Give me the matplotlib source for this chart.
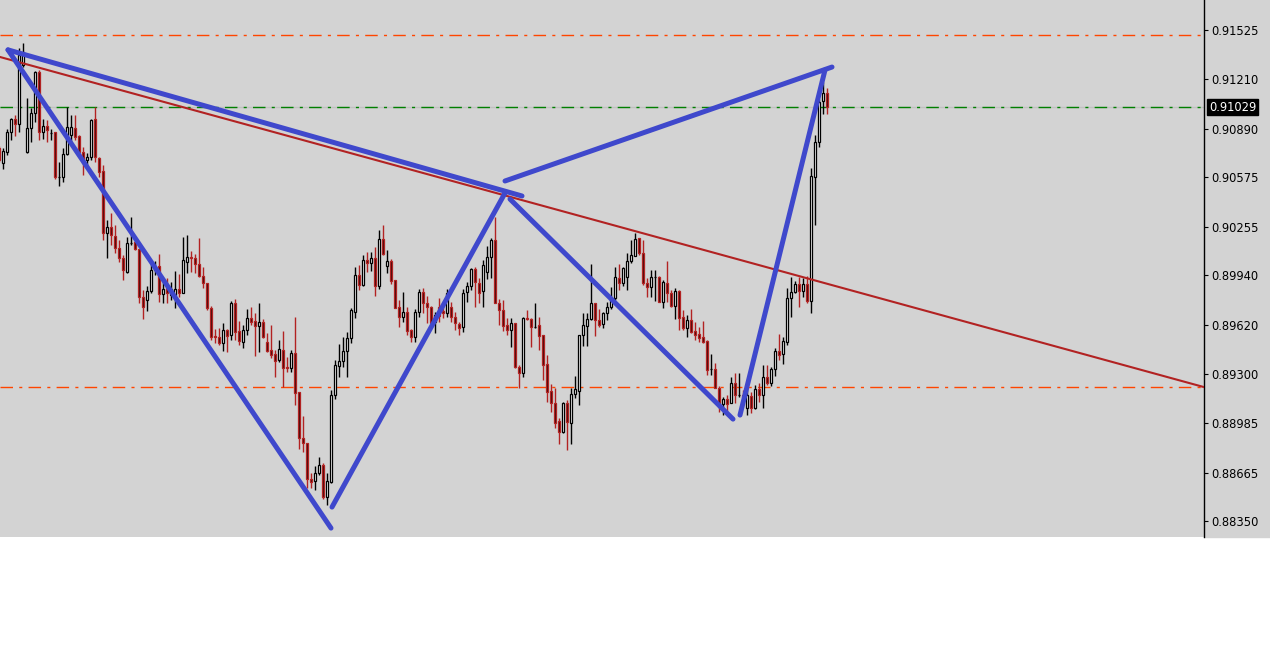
import numpy as np
import matplotlib
matplotlib.use("Agg")
import matplotlib.pyplot as plt
from matplotlib.patches import Rectangle
from matplotlib.transforms import blended_transform_factory

# OHLC prices in points (1e-5), one candle per bar
opens = [
    90764, 90667, 90739, 90868, 90952, 90920, 91301, 90739, 90894, 90991,
    91256, 90868, 90907, 90861, 90868, 90577, 90577, 90726, 90849, 90894,
    90842, 90739, 90687, 90706, 90952, 90700, 90616, 90214, 90253, 90195,
    90117, 90053, 89962, 90150, 90156, 90111, 89800, 89781, 89839, 89975,
    90001, 89820, 89859, 89813, 89813, 89852, 89826, 90027, 90059, 90053,
    90014, 89936, 89891, 89729, 89548, 89542, 89503, 89587, 89555, 89762,
    89580, 89509, 89587, 89664, 89645, 89613, 89639, 89509, 89458, 89432,
    89393, 89458, 89348, 89341, 89438, 89186, 88888, 88856, 88623, 88610,
    88662, 88713, 88506, 88603, 89166, 89354, 89386, 89451, 89535, 89703,
    89943, 89878, 90040, 90020, 90053, 89872, 90176, 90001, 90033, 89910,
    89736, 89671, 89703, 89587, 89542, 89703, 89833, 89762, 89736, 89639,
    89736, 89710, 89697, 89736, 89671, 89626, 89606, 89833, 89872, 89982,
    89891, 89839, 89962, 90059, 90169, 89762, 89716, 89619, 89587, 89632,
    89348, 89309, 89664, 89658, 89606, 89619, 89555, 89367, 89192, 89115,
    88998, 88927, 89115, 88985, 89173, 89192, 89555, 89613, 89658, 89762,
    89652, 89626, 89697, 89736, 89794, 89923, 89891, 89930, 90033, 90066,
    90182, 90085, 89891, 89865, 89930, 89930, 89768, 89891, 89826, 89742,
    89839, 89671, 89600, 89652, 89580, 89561, 89542, 89516, 89335, 89335,
    89212, 89108, 89141, 89115, 89244, 89166, 89166, 89082, 89160, 89082,
    89205, 89166, 89283, 89244, 89335, 89451, 89432, 89509, 89794, 89833,
    89885, 89839, 89885, 89775, 90577, 90803, 91069, 91120,
]
highs = [
    90777, 90764, 90887, 90959, 90978, 91411, 91444, 91088, 91023, 91262,
    91269, 90952, 90946, 90887, 90870, 90674, 90764, 91030, 90978, 90978,
    90849, 90771, 90732, 90952, 91030, 90706, 90654, 90299, 90344, 90266,
    90169, 90072, 90189, 90318, 90169, 90111, 89846, 89872, 90020, 90033,
    90079, 89917, 89923, 89897, 89969, 89949, 90189, 90202, 90098, 90079,
    90182, 89995, 89891, 89742, 89593, 89600, 89632, 89593, 89775, 89788,
    89645, 89619, 89723, 89736, 89697, 89762, 89658, 89567, 89619, 89458,
    89522, 89580, 89412, 89458, 89671, 89186, 89030, 88856, 88662, 88707,
    88765, 88726, 88662, 89199, 89393, 89496, 89542, 89574, 89729, 89995,
    90007, 90072, 90092, 90092, 90124, 90234, 90266, 90105, 90046, 89910,
    89781, 89833, 89736, 89593, 89723, 89852, 89859, 89807, 89742, 89703,
    89794, 89749, 89852, 89768, 89703, 89639, 89852, 89897, 89988, 89995,
    89923, 90040, 90130, 90182, 90318, 89788, 89781, 89664, 89664, 89632,
    89360, 89671, 89716, 89664, 89762, 89671, 89555, 89425, 89237, 89212,
    89018, 89121, 89134, 89212, 89289, 89555, 89697, 89697, 90014, 89762,
    89723, 89703, 89768, 89865, 89995, 90014, 89995, 90085, 90169, 90214,
    90182, 90169, 89923, 89975, 89975, 89936, 89910, 90033, 89846, 89859,
    89846, 89716, 89684, 89723, 89639, 89606, 89645, 89522, 89432, 89373,
    89225, 89153, 89166, 89283, 89309, 89309, 89199, 89212, 89186, 89231,
    89244, 89360, 89360, 89348, 89470, 89561, 89542, 89859, 89930, 89904,
    89930, 89923, 89936, 90635, 90849, 91081, 91191, 91153,
]
lows = [
    90674, 90629, 90719, 90816, 90842, 90868, 91288, 90732, 90803, 90933,
    90816, 90823, 90803, 90816, 90564, 90519, 90544, 90719, 90797, 90816,
    90706, 90590, 90635, 90687, 90674, 90577, 90169, 90053, 90137, 90085,
    90027, 89910, 89956, 90137, 90105, 89762, 89658, 89710, 89826, 89943,
    89768, 89762, 89762, 89781, 89729, 89800, 89826, 89956, 89962, 89956,
    89930, 89859, 89716, 89522, 89503, 89490, 89451, 89445, 89522, 89522,
    89490, 89470, 89555, 89619, 89419, 89445, 89535, 89445, 89406, 89283,
    89380, 89218, 89315, 89315, 89102, 88817, 88798, 88565, 88565, 88552,
    88649, 88494, 88455, 88597, 89141, 89283, 89348, 89283, 89503, 89664,
    89846, 89872, 89962, 89969, 89807, 89852, 90072, 89956, 89885, 89729,
    89606, 89639, 89555, 89509, 89509, 89671, 89697, 89632, 89619, 89567,
    89639, 89664, 89671, 89639, 89587, 89555, 89574, 89768, 89846, 89736,
    89762, 89736, 89917, 89923, 89762, 89619, 89580, 89555, 89477, 89341,
    89212, 89283, 89652, 89477, 89600, 89458, 89263, 89121, 89056, 88953,
    88849, 88920, 88811, 88849, 89147, 89102, 89483, 89483, 89652, 89548,
    89606, 89600, 89652, 89723, 89781, 89846, 89872, 89846, 90020, 90066,
    90072, 89878, 89800, 89800, 89775, 89768, 89729, 89768, 89736, 89658,
    89587, 89587, 89542, 89567, 89522, 89509, 89503, 89296, 89296, 89212,
    89056, 89037, 89056, 89115, 89115, 89153, 89102, 89037, 89050, 89076,
    89121, 89082, 89231, 89225, 89289, 89393, 89367, 89490, 89671, 89826,
    89736, 89800, 89762, 89697, 90266, 90771, 90984, 90984,
]
closes = [
    90687, 90745, 90868, 90952, 90920, 91366, 91386, 90894, 90991, 91256,
    90868, 90907, 90881, 90861, 90577, 90577, 90726, 90900, 90900, 90836,
    90739, 90667, 90706, 90946, 90706, 90609, 90214, 90253, 90202, 90117,
    90053, 89975, 90150, 90150, 90111, 89800, 89736, 89839, 89975, 89995,
    89820, 89852, 89826, 89852, 89852, 89826, 90040, 90059, 90053, 90014,
    89936, 89891, 89729, 89542, 89542, 89503, 89587, 89548, 89762, 89574,
    89516, 89587, 89664, 89639, 89613, 89639, 89542, 89451, 89425, 89386,
    89464, 89341, 89341, 89438, 89179, 88888, 88856, 88623, 88603, 88662,
    88713, 88506, 88610, 89166, 89360, 89386, 89451, 89535, 89716, 89943,
    89878, 90040, 90020, 90053, 89872, 90176, 90079, 90033, 89904, 89729,
    89671, 89703, 89580, 89542, 89703, 89833, 89762, 89736, 89632, 89684,
    89678, 89697, 89826, 89671, 89632, 89600, 89826, 89872, 89982, 89897,
    89826, 90007, 90059, 90169, 89762, 89716, 89613, 89587, 89632, 89348,
    89309, 89664, 89658, 89606, 89606, 89548, 89360, 89186, 89115, 88985,
    88927, 89115, 88992, 89173, 89205, 89555, 89619, 89658, 89762, 89652,
    89619, 89697, 89736, 89794, 89930, 89891, 89988, 90033, 90072, 90176,
    90085, 89891, 89865, 89930, 89930, 89768, 89897, 89826, 89742, 89839,
    89664, 89600, 89652, 89574, 89555, 89535, 89509, 89328, 89335, 89212,
    89089, 89141, 89108, 89244, 89166, 89166, 89153, 89166, 89082, 89205,
    89166, 89283, 89244, 89335, 89451, 89425, 89516, 89794, 89833, 89885,
    89839, 89885, 89775, 90583, 90803, 91062, 91120, 91029,
]

# hand-drawn pattern lines (bar index, price)
blue_x0 = [2.25, 2.25, 83.25, 126.5, 127.75, 185.25]
blue_y0 = [0.91399, 0.91399, 0.88442, 0.90551, 0.90434, 0.89037]
blue_x1 = [83.0, 130.75, 126.5, 208.25, 183.5, 206.5]
blue_y1 = [0.88306, 0.90454, 0.90473, 0.91288, 0.89011, 0.91269]

trend_x = [0.25, 301.25]
trend_y = [0.91353, 0.89218]

level_lines = [0.91496, 0.89216]
last_price = 0.91029
price_ticks = [0.91525, 0.91210, 0.90890, 0.90575, 0.90255, 0.89940,
               0.89620, 0.89300, 0.88985, 0.88665, 0.88350]

o = np.array(opens) / 1e5
h = np.array(highs) / 1e5
l = np.array(lows) / 1e5
c = np.array(closes) / 1e5
x = np.arange(len(o))

bg = "#d3d3d3"
red = "#b22222"
W, H = 1270, 648
fig = plt.figure(figsize=(W / 100, H / 100), dpi=100)
fig.patch.set_facecolor("white")
fig.patches.append(Rectangle((1204 / W, 111 / H), 66 / W, 537 / H,
                             transform=fig.transFigure, color=bg, zorder=-5))
ax = fig.add_axes([0, 111 / H, 1204 / W, 537 / H])
ax.set_facecolor(bg)

dash = (9, 4.5, 2.2, 4.5)
for lvl in level_lines:
    ax.axhline(lvl, color="#ff4500", lw=1.0, dashes=dash, zorder=1)
ax.axhline(last_price, color="#c0c0c0", lw=1.0, zorder=1)
ax.axhline(last_price, color="#008000", lw=1.0, dashes=dash, zorder=1)

bull = c >= o
ax.vlines(x[bull], l[bull], h[bull], color="black", lw=1, zorder=2)
ax.vlines(x[~bull], l[~bull], h[~bull], color=red, lw=1, zorder=2)
body_lo = np.minimum(o, c)
body_h = np.abs(c - o)
ax.bar(x[bull], body_h[bull], bottom=body_lo[bull], width=0.72,
       facecolor="white", edgecolor="black", lw=0.9, zorder=3)
ax.bar(x[~bull], body_h[~bull], bottom=body_lo[~bull], width=0.72,
       facecolor="#3a0808", edgecolor=red, lw=0.9, zorder=3)

ax.plot(trend_x, trend_y, color=red, lw=1.5, zorder=4)
for xa, ya, xb, yb in zip(blue_x0, blue_y0, blue_x1, blue_y1):
    ax.plot([xa, xb], [ya, yb], color="#3f48cc", lw=3.6,
            solid_capstyle="round", zorder=5)

ax.set_xlim(0.25, 301.25)
ax.set_ylim(0.882485, 0.917216)
ax.set_xticks([])
ax.yaxis.tick_right()
ax.set_yticks(price_ticks)
ax.set_yticklabels([f"{t:.5f}" for t in price_ticks])
ax.tick_params(axis="y", direction="out", length=3, width=0.8,
               labelsize=8.3, pad=2, colors="black")
for side in ["top", "left", "bottom"]:
    ax.spines[side].set_visible(False)
ax.spines["right"].set_color("black")
ax.spines["right"].set_linewidth(1)

tr = blended_transform_factory(ax.transAxes, ax.transData)
ax.text(1.0 + 5 / 1204, last_price, f"{last_price:.5f}", transform=tr,
        ha="left", va="center", color="white", fontsize=8.3, zorder=10,
        bbox=dict(boxstyle="square,pad=0.15", facecolor="black",
                  edgecolor="black"), clip_on=False)

fig.savefig("out.png", dpi=100)
